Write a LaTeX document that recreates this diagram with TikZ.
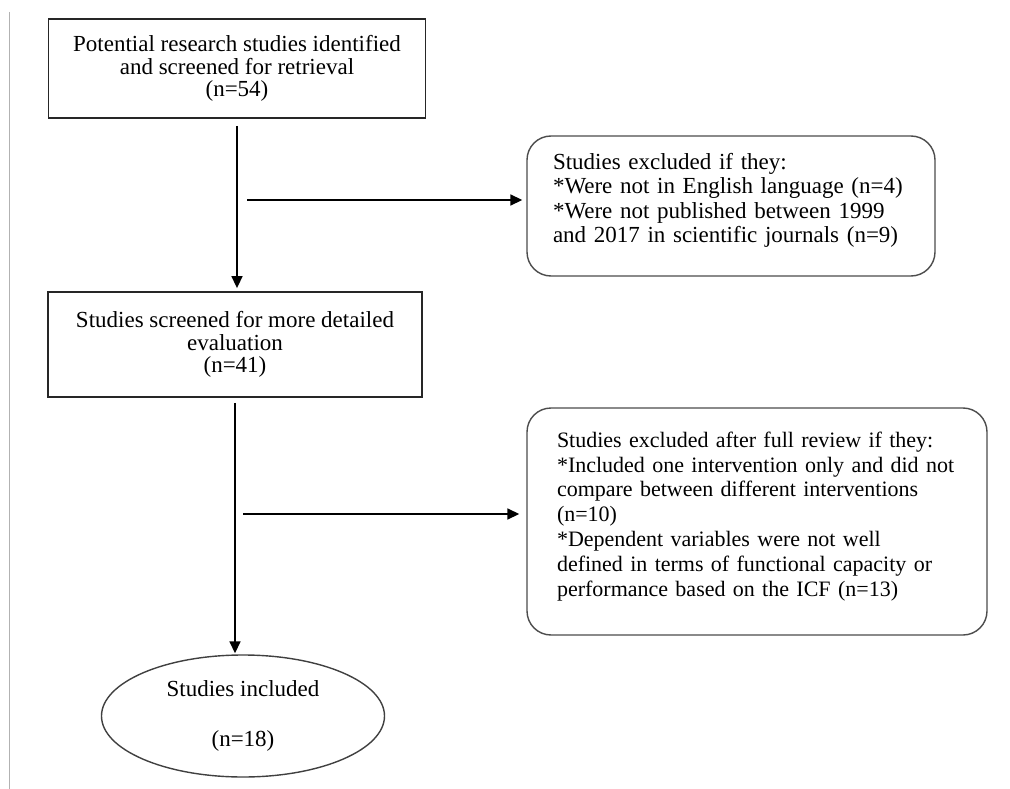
\documentclass[tikz,border=0pt]{standalone}
\usepackage{fontspec}
\setmainfont{Liberation Serif}
\usetikzlibrary{shapes.geometric,arrows.meta}
\newcommand{\lastdepth}[1]{\rule[-#1]{0pt}{0pt}}
\begin{document}
\begin{tikzpicture}[x=1pt,y=-1pt,
  every node/.style={font=\fontsize{23}{22.8}\selectfont, inner sep=0pt},
  sqbox/.style={draw=black!85, line width=1.8pt, align=center},
  rbox/.style={draw=black!70, line width=1.4pt, rounded corners=24pt, align=left},
  ovalbox/.style={ellipse, draw=black!75, line width=1.4pt, align=center},
  flow/.style={-{Triangle[length=12pt,width=11pt]}, line width=1.6pt, black}]
\useasboundingbox (0,0) rectangle (1010,789);
\draw[black!30, line width=1pt] (9.5,12) -- (9.5,789);

\node[sqbox, minimum width=377pt, minimum height=99pt] (box1) at (237,68.5)
  {Potential research studies identified\\and screened for retrieval\\(n=54)};
\node[sqbox, minimum width=374pt, minimum height=105pt] (box2) at (235,344.5)
  {Studies screened for more detailed\\evaluation\\(n=41)};
\node[rbox, minimum width=408pt, minimum height=140pt, text width=356pt,
      font=\fontsize{23}{24.2}\selectfont] (box3) at (731,206)
  {Studies excluded if they:\\{}*Were not in English language (n=4)\\{}*Were not published between 1999\\and 2017 in scientific journals (n=9)\lastdepth{16pt}};
\node[rbox, minimum width=460pt, minimum height=227pt, text width=400pt,
      font=\fontsize{22}{24.8}\selectfont] (box4) at (757,521.5)
  {Studies excluded after full review if they:\\{}*Included one intervention only and did not\\compare between different interventions\\(n=10)\\{}*Dependent variables were not well\\defined in terms of functional capacity or\\performance based on the ICF (n=13)\lastdepth{15pt}};
\node[ovalbox, minimum width=283pt, minimum height=122pt] (ell) at (243,716)
  {Studies included\\[27.5pt](n=18)};

\draw[flow, shorten <=7pt, shorten >=3pt] (box1.south) -- (box1.south |- box2.north);
\draw[flow, shorten <=5pt, shorten >=1pt] (box2.south) -- (box2.south |- ell.north);
\coordinate (h1) at (247,200);
\coordinate (h2) at (243,514);
\draw[flow, shorten >=4pt] (h1) -- (h1 -| box3.west);
\draw[flow, shorten >=7pt] (h2) -- (h2 -| box4.west);
\end{tikzpicture}
\end{document}
